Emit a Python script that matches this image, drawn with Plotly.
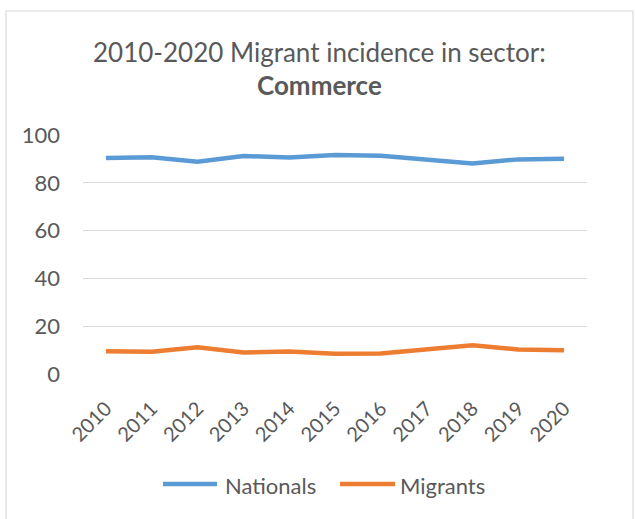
import plotly.graph_objects as go

years = ["2010", "2011", "2012", "2013", "2014", "2015", "2016", "2017", "2018", "2019", "2020"]
nationals = [90.4, 90.7, 88.8, 91.2, 90.6, 91.6, 91.3, 89.8, 88.1, 89.8, 90.1]
migrants = [9.5, 9.3, 11.2, 9.0, 9.4, 8.5, 8.6, 10.2, 12.0, 10.3, 9.9]
y_ticks = [0, 20, 40, 60, 80, 100]
series = [("Nationals", nationals, "#5b9bd5"), ("Migrants", migrants, "#ed7d31")]

W, H = 635, 519
ML, MR, MT, MB = 83, 48, 135, 145
PW, PH = W - ML - MR, H - MT - MB

FONT = "Lato, Calibri, Carlito, sans-serif"
GREY = "#595959"


def px_x(px):
    return (px - ML) / PW


def px_y(py):
    return (H - MB - py) / PH


fig = go.Figure()
for name, vals, color in series:
    fig.add_trace(go.Scatter(x=years, y=vals, mode="lines", name=name,
                             line=dict(color=color, width=4.5), showlegend=False))

# outer chart-area frame
fig.add_shape(type="rect", xref="paper", yref="paper",
              x0=px_x(6), x1=px_x(633), y0=px_y(540), y1=px_y(11),
              line=dict(color="#d9d9d9", width=1.2), fillcolor="rgba(0,0,0,0)", layer="below")

# title, two lines
fig.add_annotation(text="2010-2020 Migrant incidence in sector:", xref="paper", yref="paper",
                   x=px_x(319), y=px_y(52), xanchor="center", yanchor="middle",
                   showarrow=False, font=dict(family=FONT, size=26, color=GREY))
fig.add_annotation(text="<b>Commerce</b>", xref="paper", yref="paper",
                   x=px_x(319), y=px_y(85), xanchor="center", yanchor="middle",
                   showarrow=False, font=dict(family=FONT, size=26, color=GREY))

# legend below the axis
legend_pos = [(163, 217, 223), (340, 395, 398)]
for (name, _, color), (lx0, lx1, tx) in zip(series, legend_pos):
    fig.add_shape(type="line", xref="paper", yref="paper",
                  x0=px_x(lx0), x1=px_x(lx1), y0=px_y(484), y1=px_y(484),
                  line=dict(color=color, width=4.5))
    fig.add_annotation(text=name, xref="paper", yref="paper",
                       x=px_x(tx), y=px_y(485), xanchor="left", yanchor="middle",
                       showarrow=False, font=dict(family=FONT, size=22, color=GREY))

fig.update_layout(
    width=W, height=H,
    margin=dict(l=ML, r=MR, t=MT, b=MB),
    paper_bgcolor="white", plot_bgcolor="white",
    font=dict(family=FONT, color=GREY, size=20),
    showlegend=False,
    xaxis=dict(type="category", range=[-0.5, 10.5], showgrid=False,
               showline=False, zeroline=False, ticks="", tickangle=-45,
               ticklabelstandoff=18,
               tickfont=dict(family=FONT, size=20, color=GREY)),
    yaxis=dict(range=[0, 100], tickvals=y_ticks, showgrid=True,
               gridcolor="#d9d9d9", gridwidth=1.3, zeroline=False,
               showline=False, ticks="", ticklabelstandoff=22,
               tickfont=dict(family=FONT, size=22, color=GREY)),
)

fig.write_html("out.html")
